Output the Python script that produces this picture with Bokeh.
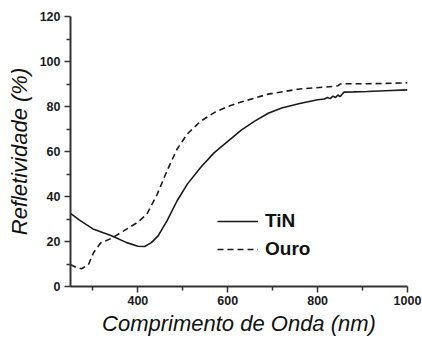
from bokeh.plotting import figure
from bokeh.models import FixedTicker, Legend, LegendItem, Range1d
from bokeh.embed import file_html
from bokeh.resources import INLINE

# TiN reflectivity (%) vs wavelength (nm)
wl_tin = [250, 270, 300, 340, 375, 400, 415, 430, 445, 465, 487, 510, 540, 570,
          600, 630, 660, 690, 720, 760, 800, 815, 822, 828, 834, 840, 845, 850,
          854, 859, 880, 910, 950, 1000]
tin = [32.5, 29.5, 25.6, 22.7, 19.5, 17.9, 17.8, 19.5, 22.5, 29.3, 38.0, 45.5,
       53.0, 59.5, 64.5, 69.5, 73.5, 77.0, 79.3, 81.3, 83.0, 83.3, 84.0, 83.5,
       84.6, 84.0, 85.1, 84.4, 85.3, 86.4, 86.5, 86.7, 87.0, 87.4]

# Gold (Ouro) reflectivity (%) vs wavelength (nm)
wl_au = [250, 262, 275, 290, 302, 317, 340, 375, 400, 420, 443, 465, 487, 510,
         540, 570, 600, 630, 690, 760, 835, 845, 850, 860, 910, 1000]
au = [9.8, 8.5, 7.9, 9.8, 15.3, 19.3, 21.3, 25.5, 28.6, 32.2, 41.0, 51.5, 61.0,
      67.8, 73.5, 77.3, 80.0, 82.0, 85.5, 87.8, 88.9, 89.2, 90.0, 90.1, 90.1, 90.5]

x_ticks = [400, 600, 800, 1000]
x_minor = [300, 500, 700, 900]
y_ticks = [0, 20, 40, 60, 80, 100, 120]
y_minor = [10, 30, 50, 70, 90, 110]

FONT = "Liberation Sans"

p = figure(width=422, height=338, output_backend="svg", toolbar_location=None,
           x_range=Range1d(250, 1000), y_range=Range1d(0, 120),
           min_border_left=70, min_border_right=15, min_border_top=16,
           min_border_bottom=52)
p.outline_line_color = None
p.background_fill_color = "white"
p.border_fill_color = "white"
p.xgrid.visible = False
p.ygrid.visible = False

r_tin = p.line(wl_tin, tin, line_color="#1a1a1a", line_width=1.6)
r_au = p.line(wl_au, au, line_color="#1a1a1a", line_width=1.6, line_dash="6 4")

p.xaxis.ticker = FixedTicker(ticks=x_ticks, minor_ticks=x_minor)
p.yaxis.ticker = FixedTicker(ticks=y_ticks, minor_ticks=y_minor)

for ax in (p.xaxis[0], p.yaxis[0]):
    ax.axis_line_color = "#333333"
    ax.axis_line_width = 2
    ax.major_tick_line_color = "#333333"
    ax.minor_tick_line_color = "#333333"
    ax.major_tick_line_width = 1.5
    ax.minor_tick_line_width = 1.5
    ax.major_tick_out = 6
    ax.major_tick_in = 0
    ax.minor_tick_out = 4
    ax.minor_tick_in = 0
    ax.major_label_text_font = FONT
    ax.major_label_text_font_style = "bold"
    ax.major_label_text_font_size = "12.5px"
    ax.major_label_text_color = "#1a1a1a"
    ax.axis_label_text_font = FONT
    ax.axis_label_text_font_style = "italic"
    ax.axis_label_text_font_size = "22px"
    ax.axis_label_text_color = "#111111"

p.xaxis.axis_label = "Comprimento de Onda (nm)"
p.yaxis.axis_label = "Refletividade (%)"
p.xaxis.major_label_standoff = 3
p.yaxis.major_label_standoff = 4
p.xaxis.axis_label_standoff = 3
p.yaxis.axis_label_standoff = 5

legend = Legend(items=[LegendItem(label="TiN", renderers=[r_tin]),
                       LegendItem(label="Ouro", renderers=[r_au])],
                location=(147, 26), padding=0, margin=0, spacing=6,
                glyph_width=41, glyph_height=20, label_height=20,
                label_standoff=7, border_line_color=None,
                background_fill_alpha=0,
                label_text_font=FONT, label_text_font_style="bold",
                label_text_font_size="19px", label_text_color="#111111")
p.add_layout(legend, "center")

open("out.html", "w").write(file_html(p, INLINE))
